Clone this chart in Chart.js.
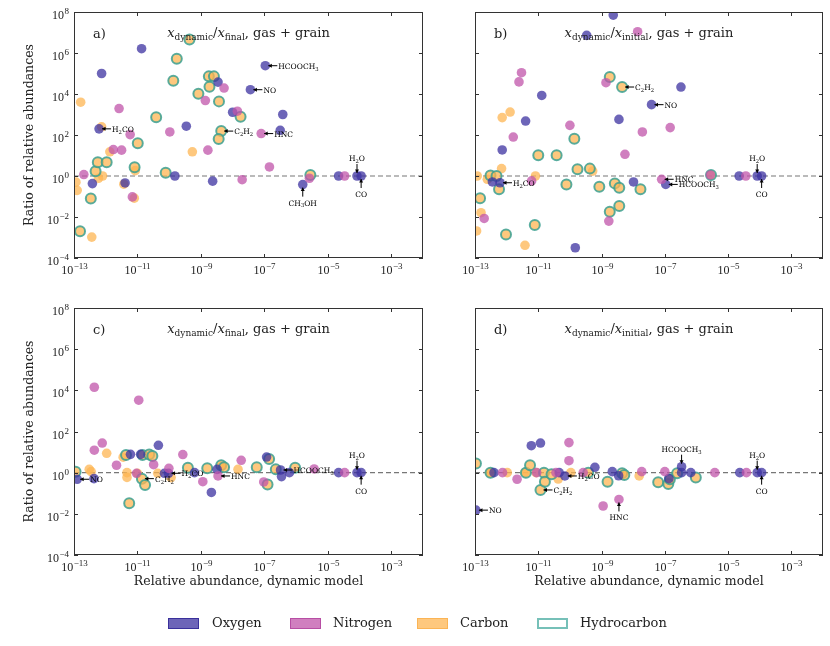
<!DOCTYPE html>
<html>
<head>
<meta charset="utf-8">
<script src="https://cdn.jsdelivr.net/npm/chart.js@4.4.1/dist/chart.umd.min.js"></script>
<style>
  body { margin: 0; background: #fff; }
  #wrap { position: relative; width: 830px; height: 646px; overflow: hidden; }
  #wrap canvas { position: absolute; left: 0; top: 0; }
  .key { position: absolute; top: 618px; height: 11px; width: 31px; box-sizing: border-box; }
  .keyText { position: absolute; top: 615px; font: 13px "DejaVu Serif", serif; color: #222; }
</style>
</head>
<body>
<div id="wrap">
  <canvas id="panelA" width="830" height="646"></canvas>
  <canvas id="panelB" width="830" height="646"></canvas>
  <canvas id="panelC" width="830" height="646"></canvas>
  <canvas id="panelD" width="830" height="646"></canvas>
  <div class="key" style="left:168px;background:rgba(60,50,160,0.75);border:1px solid rgba(50,40,150,0.85)"></div>
  <div class="keyText" style="left:212px">Oxygen</div>
  <div class="key" style="left:290px;background:rgba(192,84,170,0.75);border:1px solid rgba(180,70,160,0.85)"></div>
  <div class="keyText" style="left:333px">Nitrogen</div>
  <div class="key" style="left:417px;background:rgba(254,182,83,0.75);border:1px solid rgba(250,175,75,0.8)"></div>
  <div class="keyText" style="left:460px">Carbon</div>
  <div class="key" style="left:537px;background:#fff;border:2px solid rgba(84,176,166,0.8)"></div>
  <div class="keyText" style="left:580px">Hydrocarbon</div>
</div>
<script>
// tick exponents (powers of ten)
const xTickExp = [-13, -11, -9, -7, -5, -3];
const yTickExp = [8, 6, 4, 2, 0, -2, -4];

// all values below are log10
// a) x_dynamic / x_final
const aOxygenX = [-10.87, -12.13, -12.21, -12.42, -11.39, -9.82, -9.46, -8.63, -8.46, -8.0, -7.44, -6.97, -6.42, -6.5, -5.79, -4.66, -4.08, -3.95];
const aOxygenY = [6.21, 5.0, 2.30, -0.37, -0.34, 0.0, 2.43, -0.25, 4.58, 3.11, 4.21, 5.38, 3.0, 2.23, -0.42, 0, 0, 0];
const aNitrogenX = [-12.69, -11.58, -11.76, -11.5, -11.23, -11.16, -9.98, -8.86, -8.78, -8.27, -7.85, -7.7, -7.1, -6.84, -5.58, -4.47];
const aNitrogenY = [0.07, 3.29, 1.29, 1.26, 2.02, -1.02, 2.15, 3.68, 1.26, 4.29, 3.16, -0.18, 2.07, 0.44, -0.11, 0];
const aCarbonX = [-12.79, -12.94, -12.9, -12.44, -12.13, -11.87, -12.23, -12.1, -11.43, -11.07, -11.1, -9.27];
const aCarbonY = [3.6, -0.3, -0.7, -2.98, 2.4, 1.18, -0.11, 0, -0.4, 0.26, -1.08, 1.18];
const aHydroX = [-12.81, -12.47, -12.32, -12.25, -11.97, -11.09, -10.99, -10.41, -10.11, -9.87, -9.76, -9.36, -9.08, -8.75, -8.59, -8.73, -8.43, -8.36, -8.44, -7.75, -5.55];
const aHydroY = [-2.7, -1.1, 0.23, 0.67, 0.67, 0.43, 1.6, 2.87, 0.16, 4.65, 5.72, 6.66, 4.01, 4.86, 4.86, 4.35, 3.64, 2.19, 1.81, 2.89, 0.05];

// b) x_dynamic / x_initial
const bOxygenX = [-8.63, -9.47, -10.89, -11.4, -12.14, -12.45, -12.21, -9.83, -8.45, -7.99, -7.42, -6.49, -6.97, -4.65, -4.08, -3.94];
const bOxygenY = [7.85, 6.86, 3.93, 2.68, 1.27, -0.29, -0.33, -3.5, 2.76, -0.29, 3.48, 4.34, -0.41, 0, 0, 0];
const bNitrogenX = [-11.53, -11.61, -11.79, -12.71, -11.21, -10.0, -8.86, -7.86, -8.26, -7.71, -6.83, -8.77, -7.1, -5.56, -4.44];
const bNitrogenY = [5.04, 4.59, 1.9, -2.07, -0.24, 2.47, 4.55, 7.04, 1.06, 2.15, 2.36, -2.2, -0.16, 0.05, 0];
const bCarbonX = [-12.93, -12.95, -12.81, -12.61, -12.16, -12.14, -11.89, -11.09, -11.42, -9.28];
const bCarbonY = [0, -2.68, -1.79, -0.16, 0.36, 2.85, 3.12, 0, -3.38, 0.24];
const bHydroX = [-12.84, -12.51, -12.32, -12.24, -12.02, -11.11, -11.0, -10.42, -10.11, -9.86, -9.76, -9.37, -9.07, -8.74, -8.35, -8.58, -8.44, -8.74, -8.44, -7.77, -5.54];
const bHydroY = [-1.09, 0.03, 0, -0.65, -2.85, -2.39, 1.01, 1.01, -0.42, 1.82, 0.33, 0.36, -0.52, 4.83, 4.34, -0.36, -0.57, -1.74, -1.46, -0.65, 0.05];

// c) x_dynamic / x_final
const cOxygenX = [-12.9, -12.37, -11.22, -10.9, -10.34, -10.15, -10.02, -9.2, -8.67, -8.49, -6.93, -6.49, -6.46, -6.21, -4.66, -4.08, -3.95];
const cOxygenY = [-0.32, -0.29, 0.89, 0.89, 1.33, -0.03, -0.03, 0, -0.96, 0.16, 0.76, 0.13, -0.19, 0, 0, 0, 0];
const cNitrogenX = [-12.36, -10.96, -12.11, -12.36, -11.66, -10.49, -10.01, -9.57, -8.94, -8.46, -7.73, -7.02, -5.43, -4.47, -11.03];
const cNitrogenY = [4.15, 3.52, 1.44, 1.09, 0.36, 0.39, 0.21, 0.88, -0.44, -0.16, 0.6, -0.45, 0.18, 0, -0.03];
const cCarbonX = [-12.52, -12.46, -11.97, -11.45, -11.33, -11.33, -11.0, -10.36, -9.94, -7.83, -8.36];
const cCarbonY = [0.16, 0.05, 0.94, 0.75, 0, -0.23, -0.03, -0.03, -0.24, 0.16, 0.29];
const cHydroX = [-12.95, -11.36, -11.26, -10.84, -10.63, -10.53, -10.86, -10.76, -9.41, -8.8, -8.36, -8.27, -7.24, -6.85, -6.9, -6.64, -6.03];
const cHydroY = [0.05, 0.86, -1.49, 0.86, 0.88, 0.81, -0.29, -0.6, 0.24, 0.21, 0.36, 0.26, 0.26, 0.66, -0.57, 0.16, 0.24];

// d) x_dynamic / x_initial
const dOxygenX = [-12.97, -12.4, -11.22, -10.93, -10.34, -10.16, -9.21, -8.66, -8.46, -6.87, -6.47, -6.47, -6.18, -4.63, -4.08, -3.94];
const dOxygenY = [-1.82, 0, 1.31, 1.44, 0, -0.16, 0.26, 0.05, -0.15, -0.29, 0.29, 0, 0, 0, 0, 0];
const dNitrogenX = [-12.13, -11.67, -11.05, -10.44, -10.03, -10.03, -9.58, -8.95, -8.45, -7.73, -7.0, -5.42, -4.42];
const dNitrogenY = [0, -0.32, 0, 0, 1.46, 0.58, 0, -1.62, -1.3, 0.05, 0.05, 0, 0];
const dCarbonX = [-12.53, -11.98, -11.42, -10.37, -9.97, -7.81, -11.07];
const dCarbonY = [0, 0, 0, -0.31, 0, -0.16, 0];
const dHydroX = [-12.97, -12.51, -11.39, -11.26, -10.82, -10.93, -10.79, -10.58, -9.42, -8.81, -8.35, -8.28, -7.21, -6.89, -6.84, -6.61, -6.02];
const dHydroY = [0.45, 0, 0, 0.36, 0, -0.84, -0.44, -0.08, 0, -0.44, -0.03, -0.11, -0.47, -0.55, -0.32, -0.03, -0.24];

// labelled species: name, logx, logy, side of label
const aNotes = [['H_2CO', -12.21, 2.30, 'r'], ['HCOOCH_3', -6.97, 5.38, 'r'], ['NO', -7.44, 4.21, 'r'], ['C_2H_2', -8.36, 2.19, 'r'],
  ['HNC', -7.1, 2.07, 'r'], ['H_2O', -4.08, 0, 'u'], ['CO', -3.95, 0, 'd'], ['CH_3OH', -5.79, -0.42, 'd']];
const bNotes = [['H_2CO', -12.21, -0.33, 'r'], ['C_2H_2', -8.35, 4.34, 'r'], ['NO', -7.42, 3.48, 'r'], ['HNC', -7.1, -0.16, 'r'],
  ['HCOOCH_3', -6.97, -0.41, 'r'], ['H_2O', -4.08, 0, 'u'], ['CO', -3.94, 0, 'd']];
const cNotes = [['NO', -12.9, -0.32, 'r'], ['C_2H_2', -10.86, -0.29, 'r'], ['H_2CO', -10.02, -0.03, 'r'], ['HNC', -8.46, -0.16, 'r'],
  ['HCOOCH_3', -6.49, 0.13, 'r'], ['H_2O', -4.08, 0, 'u'], ['CO', -3.95, 0, 'd']];
const dNotes = [['NO', -12.97, -1.82, 'r'], ['C_2H_2', -10.93, -0.84, 'r'], ['H_2CO', -10.16, -0.16, 'r'], ['HNC', -8.45, -1.3, 'd'],
  ['HCOOCH_3', -6.47, 0.29, 'u'], ['H_2O', -4.08, 0, 'u'], ['CO', -3.94, 0, 'd']];

const TEXT = '"DejaVu Serif", serif';
const NUM = '"Liberation Serif", serif';

function pts(xs, ys) {
  return xs.map((v, i) => ({ x: Math.pow(10, v), y: Math.pow(10, ys[i]) }));
}

// draws text with _n subscripts
function drawChem(ctx, label, x, y, align, size) {
  const segs = [];
  for (let i = 0; i < label.length; i++) {
    if (label[i] === '_') { segs.push([label[i + 1], true]); i++; }
    else segs.push([label[i], false]);
  }
  let w = 0;
  segs.forEach(s => { ctx.font = (s[1] ? size * 0.7 : size) + 'px ' + TEXT; w += ctx.measureText(s[0]).width; });
  let cx = align === 'center' ? x - w / 2 : x;
  ctx.textAlign = 'left';
  segs.forEach(s => {
    ctx.font = (s[1] ? size * 0.7 : size) + 'px ' + TEXT;
    ctx.fillText(s[0], cx, s[1] ? y + size * 0.25 : y);
    cx += ctx.measureText(s[0]).width;
  });
}

function drawPow(ctx, exp, x, y, align) {
  const sup = exp < 0 ? '\u2212' + (-exp) : String(exp);
  ctx.font = '12px ' + NUM;
  const wb = ctx.measureText('10').width;
  ctx.font = '9px ' + NUM;
  const ws = ctx.measureText(sup).width;
  const total = wb + ws + 0.5;
  const x0 = align === 'center' ? x - total / 2 : x - total;
  ctx.textAlign = 'left';
  ctx.font = '12px ' + NUM;
  ctx.fillText('10', x0, y);
  ctx.font = '9px ' + NUM;
  ctx.fillText(sup, x0 + wb + 0.5, y - 5);
}

function drawNote(ctx, px, py, label, side) {
  let tip, tail;
  if (side === 'r') { tip = [px + 3, py]; tail = [px + 12, py]; }
  else if (side === 'u') { tip = [px, py - 3]; tail = [px, py - 12]; }
  else { tip = [px, py + 3]; tail = [px, py + 12]; }
  ctx.strokeStyle = '#000';
  ctx.fillStyle = '#000';
  ctx.lineWidth = 1;
  ctx.beginPath();
  ctx.moveTo(tail[0], tail[1]);
  ctx.lineTo(tip[0], tip[1]);
  ctx.stroke();
  const ang = Math.atan2(tip[1] - tail[1], tip[0] - tail[0]);
  ctx.beginPath();
  ctx.moveTo(tip[0], tip[1]);
  ctx.lineTo(tip[0] - 3.5 * Math.cos(ang) + 2 * Math.sin(ang), tip[1] - 3.5 * Math.sin(ang) - 2 * Math.cos(ang));
  ctx.lineTo(tip[0] - 3.5 * Math.cos(ang) - 2 * Math.sin(ang), tip[1] - 3.5 * Math.sin(ang) + 2 * Math.cos(ang));
  ctx.closePath();
  ctx.fill();
  if (side === 'r') drawChem(ctx, label, px + 13, py + 3, 'left', 7.5);
  else if (side === 'u') drawChem(ctx, label, px, py - 15, 'center', 7.5);
  else drawChem(ctx, label, px, py + 21, 'center', 7.5);
}

const panelDecor = {
  id: 'panelDecor',
  afterDatasetsDraw(chart, args, o) {
    const { ctx, chartArea: a } = chart;
    const xs = chart.scales.x, ys = chart.scales.y;
    ctx.save();
    o.notes.forEach(n => drawNote(ctx, xs.getPixelForValue(Math.pow(10, n[1])), ys.getPixelForValue(Math.pow(10, n[2])), n[0], n[3]));

    // frame
    ctx.strokeStyle = '#333';
    ctx.lineWidth = 1;
    ctx.strokeRect(Math.round(a.left) + 0.5, Math.round(a.top) + 0.5, Math.round(a.width) - 1, Math.round(a.height) - 1);

    // inward ticks + labels
    ctx.fillStyle = '#222';
    xTickExp.forEach(e => {
      const px = Math.round(xs.getPixelForValue(Math.pow(10, e))) + 0.5;
      ctx.beginPath();
      ctx.moveTo(px, a.bottom); ctx.lineTo(px, a.bottom - 4);
      ctx.moveTo(px, a.top); ctx.lineTo(px, a.top + 4);
      ctx.stroke();
      drawPow(ctx, e, px, a.bottom + 16, 'center');
    });
    yTickExp.forEach(e => {
      const py = Math.round(ys.getPixelForValue(Math.pow(10, e))) + 0.5;
      ctx.beginPath();
      ctx.moveTo(a.left, py); ctx.lineTo(a.left + 4, py);
      ctx.moveTo(a.right, py); ctx.lineTo(a.right - 4, py);
      ctx.stroke();
      if (o.yLabels) drawPow(ctx, e, a.left - 5, py + 6, 'right');
    });

    // panel letter and title
    ctx.textAlign = 'left';
    ctx.font = '13px ' + TEXT;
    ctx.fillText(o.letter, a.left + 19, a.top + 26);
    const parts = [['x', 'italic 13px ' + TEXT, 0], ['dynamic', '9px ' + TEXT, 3], ['/', '13px ' + TEXT, 0],
      ['x', 'italic 13px ' + TEXT, 0], [o.sub, '9px ' + TEXT, 3], [', gas + grain', '13px ' + TEXT, 0]];
    let tw = 0;
    parts.forEach(p => { ctx.font = p[1]; tw += ctx.measureText(p[0]).width; });
    let tx = (a.left + a.right) / 2 - tw / 2;
    parts.forEach(p => { ctx.font = p[1]; ctx.fillText(p[0], tx, a.top + 25 + p[2]); tx += ctx.measureText(p[0]).width; });

    // axis titles
    ctx.font = '12.5px ' + TEXT;
    ctx.textAlign = 'center';
    if (o.yLabels) {
      ctx.save();
      ctx.translate(33, (a.top + a.bottom) / 2);
      ctx.rotate(-Math.PI / 2);
      ctx.fillText('Ratio of relative abundances', 0, 0);
      ctx.restore();
    }
    if (o.xTitle) ctx.fillText('Relative abundance, dynamic model', (a.left + a.right) / 2, a.bottom + 30);
    ctx.restore();
  }
};

function group(xs, ys, fill, edge, width, radius, order) {
  return {
    type: 'scatter', data: pts(xs, ys), order: order,
    pointBackgroundColor: fill, pointBorderColor: edge, pointBorderWidth: width,
    pointRadius: radius, pointHoverRadius: radius
  };
}

const OXY = 'rgba(60,50,160,0.75)';
const NIT = 'rgba(192,84,170,0.75)';
const CAR = 'rgba(254,182,83,0.75)';
const HYD = 'rgba(60,160,145,0.85)';

function makePanel(id, pad, g, notes, letter, sub, yLabels, xTitle) {
  new Chart(document.getElementById(id), {
    data: {
      datasets: [
        group(g[0], g[1], OXY, OXY, 0, 4.8, 2),
        group(g[2], g[3], NIT, NIT, 0, 4.8, 1),
        group(g[4], g[5], CAR, CAR, 0, 4.8, 4),
        group(g[6], g[7], CAR, HYD, 2, 5, 3),
        {
          type: 'line', order: 9,
          data: [{ x: 1e-13, y: 1 }, { x: 1e-2, y: 1 }],
          borderColor: '#777', borderWidth: 1.2, borderDash: [5, 3], pointRadius: 0
        }
      ]
    },
    options: {
      responsive: false, animation: false, devicePixelRatio: 1,
      layout: { padding: pad },
      scales: {
        x: { type: 'logarithmic', min: 1e-13, max: 1e-2, display: false },
        y: { type: 'logarithmic', min: 1e-4, max: 1e8, display: false }
      },
      plugins: {
        legend: { display: false }, tooltip: { enabled: false },
        panelDecor: { notes: notes, letter: letter, sub: sub, yLabels: yLabels, xTitle: xTitle }
      }
    },
    plugins: [panelDecor]
  });
}

makePanel('panelA', { left: 74, top: 12, right: 407, bottom: 388 },
  [aOxygenX, aOxygenY, aNitrogenX, aNitrogenY, aCarbonX, aCarbonY, aHydroX, aHydroY], aNotes, 'a)', 'final', true, false);
makePanel('panelB', { left: 475, top: 12, right: 7, bottom: 388 },
  [bOxygenX, bOxygenY, bNitrogenX, bNitrogenY, bCarbonX, bCarbonY, bHydroX, bHydroY], bNotes, 'b)', 'initial', false, false);
makePanel('panelC', { left: 74, top: 308, right: 407, bottom: 91 },
  [cOxygenX, cOxygenY, cNitrogenX, cNitrogenY, cCarbonX, cCarbonY, cHydroX, cHydroY], cNotes, 'c)', 'final', true, true);
makePanel('panelD', { left: 475, top: 308, right: 7, bottom: 91 },
  [dOxygenX, dOxygenY, dNitrogenX, dNitrogenY, dCarbonX, dCarbonY, dHydroX, dHydroY], dNotes, 'd)', 'initial', false, true);
</script>
</body>
</html>
